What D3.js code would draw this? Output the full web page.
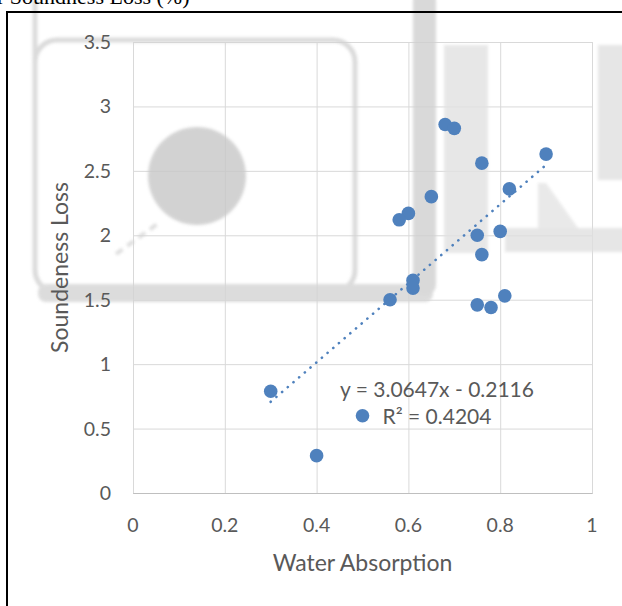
<!DOCTYPE html>
<html>
<head>
<meta charset="utf-8">
<script src="https://cdn.jsdelivr.net/npm/d3@7"></script>
<style>
  html, body { margin: 0; padding: 0; background: #fff; }
  svg { display: block; }
  .tick-label { font-family: Lato, "Open Sans", sans-serif; font-size: 19.5px; fill: #595959; }
  .axis-title { font-family: Lato, "Open Sans", sans-serif; font-size: 23px; fill: #595959; }
  .eq-label { font-family: Lato, "Open Sans", sans-serif; font-size: 21px; fill: #595959; }
</style>
</head>
<body>
<div id="chart"></div>
<script>
// values
const waterAbsorption = [0.68, 0.70, 0.76, 0.90, 0.82, 0.65, 0.60, 0.58, 0.75, 0.80,
  0.76, 0.61, 0.61, 0.56, 0.75, 0.78, 0.81, 0.30, 0.40, 0.50];
const soundnessLoss = [2.86, 2.83, 2.56, 2.63, 2.36, 2.30, 2.17, 2.12, 2.00, 2.03,
  1.85, 1.65, 1.59, 1.50, 1.46, 1.44, 1.53, 0.79, 0.29, 0.60];
const xTicks = [0, 0.2, 0.4, 0.6, 0.8, 1];
const yTicks = [0, 0.5, 1, 1.5, 2, 2.5, 3, 3.5];
const slope = 3.0647;
const intercept = -0.2116;
const rSquared = 0.4204;

const W = 622, H = 606;
const margin = {top: 42, right: 30, bottom: 113, left: 133};
const width = W - margin.left - margin.right,
  height = H - margin.top - margin.bottom;
const blue = '#4f81bd';

const svg = d3.select('#chart').append('svg')
  .attr('width', W)
  .attr('height', H);

// watermark blur
svg.append('defs').append('filter')
  .attr('id', 'soft')
  .append('feGaussianBlur')
  .attr('stdDeviation', 1.6);

const x = d3.scaleLinear().domain([0, 1]).range([0, width]);
const y = d3.scaleLinear().domain([0, 3.5]).range([height, 0]);

// layers: grid, watermark, frame, chart content
const gridLayer = svg.append('g')
  .attr('transform', `translate(${margin.left},${margin.top})`);
const wm = svg.append('g')
  .attr('filter', 'url(#soft)')
  .attr('opacity', 0.8);
const frameLayer = svg.append('g');
const g = svg.append('g')
  .attr('transform', `translate(${margin.left},${margin.top})`);

// gridlines
gridLayer.append('g')
  .attr('class', 'grid y')
  .call(d3.axisLeft(y).tickValues(yTicks).tickSize(-width).tickFormat(''))
  .call(s => s.select('.domain').remove())
  .call(s => s.selectAll('line').attr('stroke', '#d9d9d9'));

gridLayer.append('g')
  .attr('class', 'grid x')
  .attr('transform', `translate(0,${height})`)
  .call(d3.axisBottom(x).tickValues(xTicks).tickSize(-height).tickFormat(''))
  .call(s => s.select('.domain').attr('stroke', '#bfbfbf'))
  .call(s => s.selectAll('line').attr('stroke', '#d9d9d9'));

// grey logo watermark
wm.append('rect')
  .attr('x', 35).attr('y', 40).attr('width', 320).attr('height', 252)
  .attr('rx', 22)
  .attr('fill', 'none').attr('stroke', '#d2d2d2').attr('stroke-width', 5);
wm.append('line')
  .attr('x1', 35).attr('y1', 0).attr('x2', 35).attr('y2', 60)
  .attr('stroke', '#d2d2d2').attr('stroke-width', 5);
wm.append('rect')
  .attr('x', 38).attr('y', 284).attr('width', 395).attr('height', 18)
  .attr('rx', 8).attr('fill', '#d4d4d4');
wm.append('rect')
  .attr('x', 413).attr('y', -10).attr('width', 23).attr('height', 305)
  .attr('rx', 10).attr('fill', '#d0d0d0');
wm.append('circle')
  .attr('cx', 197).attr('cy', 176).attr('r', 49)
  .attr('fill', '#c8c8c8');
wm.append('line')
  .attr('x1', 116).attr('y1', 254).attr('x2', 160).attr('y2', 222)
  .attr('stroke', '#d6d6d6').attr('stroke-width', 4)
  .attr('stroke-dasharray', '8 6');
wm.append('rect')
  .attr('x', 444).attr('y', 45).attr('width', 44).attr('height', 208)
  .attr('fill', '#e2e2e2');
wm.append('rect')
  .attr('x', 598).attr('y', 45).attr('width', 30).attr('height', 135)
  .attr('fill', '#e0e0e0');
wm.append('rect')
  .attr('x', 505).attr('y', 228).attr('width', 125).attr('height', 24)
  .attr('fill', '#e0e0e0');
wm.append('path')
  .attr('d', 'M538,183 L546,183 L578,228 L538,228 Z')
  .attr('fill', '#e4e4e4');

// outer frame of the figure
frameLayer.append('rect')
  .attr('x', 7).attr('y', 12)
  .attr('width', W + 20).attr('height', H + 20)
  .attr('fill', 'none')
  .attr('stroke', '#000')
  .attr('stroke-width', 2);

// caption cut off at the top
frameLayer.append('text')
  .attr('x', -3).attr('y', 4)
  .style('font-family', '"Liberation Serif", "Times New Roman", serif')
  .style('font-size', '22px')
  .style('fill', '#000')
  .text('r   Soundness Loss (%)');

// tick labels
g.append('g')
  .selectAll('text')
  .data(yTicks)
  .enter()
  .append('text')
  .attr('class', 'tick-label')
  .attr('x', -22)
  .attr('y', d => y(d))
  .attr('dy', '0.36em')
  .attr('text-anchor', 'end')
  .text(d => d);

g.append('g')
  .selectAll('text')
  .data(xTicks)
  .enter()
  .append('text')
  .attr('class', 'tick-label')
  .attr('x', d => x(d))
  .attr('y', height + 39)
  .attr('text-anchor', 'middle')
  .text(d => d);

// axis titles
g.append('text')
  .attr('class', 'axis-title')
  .attr('x', width / 2)
  .attr('y', height + 78)
  .attr('text-anchor', 'middle')
  .text('Water Absorption');

g.append('text')
  .attr('class', 'axis-title')
  .attr('transform', `translate(-65,${height / 2}) rotate(-90)`)
  .attr('text-anchor', 'middle')
  .text('Soundeness Loss');

// linear trendline over the data range
const xExt = d3.extent(waterAbsorption);
const trend = d3.line()
  .x(d => x(d))
  .y(d => y(slope * d + intercept));

g.append('path')
  .attr('class', 'trendline')
  .attr('d', trend(xExt))
  .attr('fill', 'none')
  .attr('stroke', blue)
  .attr('stroke-width', 2.6)
  .attr('stroke-linecap', 'round')
  .attr('stroke-dasharray', '0.1 7.4');

// points
g.append('g')
  .selectAll('circle')
  .data(waterAbsorption.map((v, i) => [v, soundnessLoss[i]]))
  .enter()
  .append('circle')
  .attr('cx', d => x(d[0]))
  .attr('cy', d => y(d[1]))
  .attr('r', 6.8)
  .attr('fill', blue);

// trendline equation label
const eq = g.append('text')
  .attr('class', 'eq-label')
  .attr('text-anchor', 'middle');
eq.append('tspan')
  .attr('x', 437 - margin.left)
  .attr('y', 397 - margin.top)
  .text(`y = ${slope}x - ${Math.abs(intercept)}`);
eq.append('tspan')
  .attr('x', 437 - margin.left)
  .attr('y', 424 - margin.top)
  .text(`R\u00b2 = ${rSquared}`);
</script>
</body>
</html>
